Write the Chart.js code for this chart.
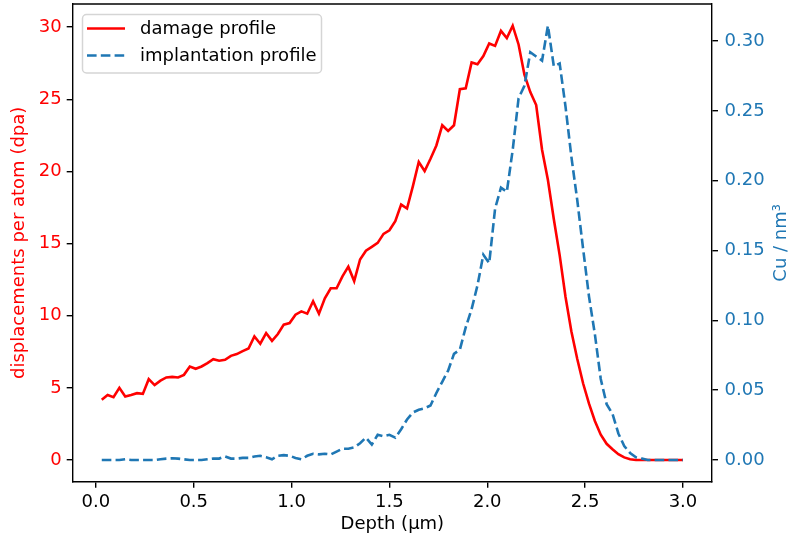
<!DOCTYPE html>
<html>
<head>
<meta charset="utf-8">
<script src="https://cdn.jsdelivr.net/npm/chart.js@4.4.1/dist/chart.umd.min.js"></script>
<style>
  html, body { margin: 0; padding: 0; background: #fff; }
  #wrap { width: 790px; height: 542px; position: relative; }
</style>
</head>
<body>
<div id="wrap"><canvas id="chart"></canvas></div>
<script>
// Depth grid (µm)
const depth = [
  0.03, 0.06, 0.09, 0.12, 0.15, 0.18, 0.21, 0.24, 0.27, 0.30,
  0.33, 0.36, 0.39, 0.42, 0.45, 0.48, 0.51, 0.54, 0.57, 0.60,
  0.63, 0.66, 0.69, 0.72, 0.75, 0.78, 0.81, 0.84, 0.87, 0.90,
  0.93, 0.96, 0.99, 1.02, 1.05, 1.08, 1.11, 1.14, 1.17, 1.20,
  1.23, 1.26, 1.29, 1.32, 1.35, 1.38, 1.41, 1.44, 1.47, 1.50,
  1.53, 1.56, 1.59, 1.62, 1.65, 1.68, 1.71, 1.74, 1.77, 1.80,
  1.83, 1.86, 1.89, 1.92, 1.95, 1.98, 2.01, 2.04, 2.07, 2.10,
  2.13, 2.16, 2.19, 2.22, 2.25, 2.28, 2.31, 2.34, 2.37, 2.40,
  2.43, 2.46, 2.49, 2.52, 2.55, 2.58, 2.61, 2.64, 2.67, 2.70,
  2.73, 2.76, 2.79, 2.82, 2.85, 2.88, 2.91, 2.94, 2.97, 3.00
];

// Displacements per atom (dpa)
const damage = [
  4.17, 4.5, 4.35, 5.0, 4.4, 4.5, 4.63, 4.58, 5.6, 5.19,
  5.5, 5.72, 5.76, 5.72, 5.9, 6.48, 6.32, 6.48, 6.71, 6.99,
  6.88, 6.94, 7.22, 7.34, 7.55, 7.73, 8.56, 8.06, 8.8, 8.26,
  8.73, 9.38, 9.49, 10.07, 10.3, 10.14, 11.0, 10.14, 11.2, 11.9,
  11.9, 12.73, 13.4, 12.4, 13.9, 14.5, 14.77, 15.05, 15.67, 15.92,
  16.55, 17.7, 17.43, 18.98, 20.65, 20.03, 20.88, 21.8, 23.2, 22.8,
  23.2, 25.7, 25.76, 27.55, 27.43, 28.0, 28.87, 28.7, 29.74, 29.24,
  30.1, 28.8, 26.7, 25.5, 24.6, 21.5, 19.4, 16.7, 14.2, 11.3,
  8.9, 7.0, 5.3, 3.9, 2.7, 1.75, 1.12, 0.75, 0.4, 0.18,
  0.05, 0, 0, 0, 0, 0, 0, 0, 0, 0
];

// Implanted Cu concentration (Cu / nm³)
const implantation = [
  0, 0, 0, 0, 0.0005, 0, 0, 0, 0, 0,
  0.0005, 0.001, 0.0012, 0.001, 0.0005, 0, 0, 0, 0.0005, 0.001,
  0.001, 0.0025, 0.001, 0.001, 0.0015, 0.0015, 0.0025, 0.003, 0.002, 0.0005,
  0.003, 0.0035, 0.003, 0.0015, 0.0005, 0.003, 0.0045, 0.004, 0.0045, 0.004,
  0.006, 0.008, 0.008, 0.009, 0.012, 0.016, 0.011, 0.018, 0.017, 0.018,
  0.016, 0.022, 0.029, 0.034, 0.036, 0.037, 0.039, 0.048, 0.056, 0.064,
  0.076, 0.079, 0.095, 0.108, 0.125, 0.147, 0.141, 0.18, 0.195, 0.192,
  0.222, 0.259, 0.268, 0.292, 0.289, 0.286, 0.311, 0.282, 0.284, 0.253,
  0.217, 0.186, 0.151, 0.117, 0.09, 0.058, 0.04, 0.033, 0.019, 0.01,
  0.005, 0.002, 0.001, 0, 0, 0, 0, 0, 0, 0
];

// Tick positions
const xTicks = [0, 0.5, 1.0, 1.5, 2.0, 2.5, 3.0];
const dpaTicks = [0, 5, 10, 15, 20, 25, 30];
const cuTicks = [0, 0.05, 0.10, 0.15, 0.20, 0.25, 0.30];

const RED = '#ff0000';
const BLUE = '#1f77b4';
const FONT = 'DejaVu Sans';
const FS = 18;
const LW = 2.6;
const DASH = [9.6, 4.2];

const pts = (ys) => depth.map((d, i) => ({ x: d, y: ys[i] }));
const setTicks = (arr) => (scale) => { scale.ticks = arr.map(v => ({ value: v })); };
// fixed axis box sizes, no extra room reserved for overhanging tick labels
const fixSize = (w, h) => (scale) => {
  if (w !== null) scale.width = w;
  if (h !== null) scale.height = h;
  scale.paddingTop = 0;
  scale.paddingBottom = 0;
  scale.paddingLeft = 0;
  scale.paddingRight = 0;
};

// Frame on top edge, right-hand axis title and the legend box
const decorations = {
  id: 'decorations',
  afterDatasetsDraw(chart) {
    const { ctx, chartArea: a } = chart;
    ctx.save();
    ctx.strokeStyle = '#000';
    ctx.lineWidth = 1.4;
    ctx.beginPath();
    ctx.moveTo(a.left, a.top);
    ctx.lineTo(a.right, a.top);
    ctx.stroke();

    // legend
    const bx = 82.5, by = 14.5, bw = 239, bh = 58.5;
    ctx.beginPath();
    ctx.roundRect(bx, by, bw, bh, 4);
    ctx.fillStyle = 'rgba(255,255,255,0.8)';
    ctx.fill();
    ctx.strokeStyle = '#d5d5d5';
    ctx.lineWidth = 1.5;
    ctx.stroke();

    const rows = [28.5, 55.5];
    chart.data.datasets.slice().sort((p, q) => p.legendRank - q.legendRank).forEach((ds, k) => {
      const y = rows[k];
      ctx.beginPath();
      ctx.strokeStyle = ds.borderColor;
      ctx.lineWidth = ds.borderWidth;
      ctx.setLineDash(ds.borderDash || []);
      ctx.moveTo(87, y);
      ctx.lineTo(125, y);
      ctx.stroke();
      ctx.setLineDash([]);
      ctx.fillStyle = '#000';
      ctx.font = FS + 'px "' + FONT + '"';
      ctx.textAlign = 'left';
      ctx.textBaseline = 'middle';
      ctx.fillText(ds.label, 140, y + 1);
    });
    ctx.restore();
  },
  afterDraw(chart) {
    const { ctx, chartArea: a } = chart;
    ctx.save();
    ctx.translate(781, (a.top + a.bottom) / 2);
    ctx.rotate(-Math.PI / 2);
    ctx.fillStyle = BLUE;
    ctx.font = FS + 'px "' + FONT + '"';
    ctx.textAlign = 'center';
    ctx.textBaseline = 'middle';
    ctx.fillText('Cu / nm³', 0, 0);
    ctx.restore();
  }
};

const axisGrid = { display: true, drawOnChartArea: false, drawTicks: true, tickLength: 6, color: '#000', lineWidth: 1.4 };
const axisBorder = { display: true, color: '#000', width: 1.4 };

new Chart(document.getElementById('chart'), {
  type: 'line',
  data: {
    datasets: [
      {
        label: 'implantation profile',
        legendRank: 1,
        data: pts(implantation),
        yAxisID: 'y2',
        borderColor: BLUE,
        borderWidth: LW,
        borderDash: DASH,
        pointRadius: 0,
        tension: 0,
        fill: false
      },
      {
        label: 'damage profile',
        legendRank: 0,
        data: pts(damage),
        yAxisID: 'y1',
        borderColor: RED,
        borderWidth: LW,
        pointRadius: 0,
        tension: 0,
        fill: false
      }
    ]
  },
  options: {
    responsive: true,
    maintainAspectRatio: false,
    animation: false,
    layout: { padding: { top: 4, right: 0, bottom: 0, left: 0 } },
    plugins: { legend: { display: false }, tooltip: { enabled: false } },
    scales: {
      x: {
        type: 'linear',
        position: 'bottom',
        min: -0.1185,
        max: 3.1485,
        afterBuildTicks: setTicks(xTicks),
        afterFit: fixSize(null, 60.3),
        grid: axisGrid,
        border: axisBorder,
        ticks: {
          color: '#000',
          font: { family: FONT, size: FS },
          padding: 4,
          maxRotation: 0,
          callback: (v) => Number(v).toFixed(1)
        },
        title: {
          display: true,
          text: 'Depth (µm)',
          color: '#000',
          font: { family: FONT, size: FS },
          padding: { top: 0, bottom: 6.5 }
        }
      },
      y1: {
        type: 'linear',
        position: 'left',
        min: -1.505,
        max: 31.605,
        afterBuildTicks: setTicks(dpaTicks),
        afterFit: fixSize(72.7, null),
        grid: axisGrid,
        border: axisBorder,
        ticks: {
          color: RED,
          font: { family: FONT, size: FS },
          padding: 5,
          callback: (v) => String(Math.round(v))
        },
        title: {
          display: true,
          text: 'displacements per atom (dpa)',
          color: RED,
          font: { family: FONT, size: FS },
          padding: { top: 9, bottom: 0 }
        }
      },
      y2: {
        type: 'linear',
        position: 'right',
        min: -0.01555,
        max: 0.32655,
        afterBuildTicks: setTicks(cuTicks),
        afterFit: fixSize(78, null),
        grid: axisGrid,
        border: axisBorder,
        ticks: {
          color: BLUE,
          font: { family: FONT, size: FS },
          padding: 6.5,
          callback: (v) => Number(v).toFixed(2)
        },
        title: { display: false }
      }
    }
  },
  plugins: [decorations]
});
</script>
</body>
</html>
